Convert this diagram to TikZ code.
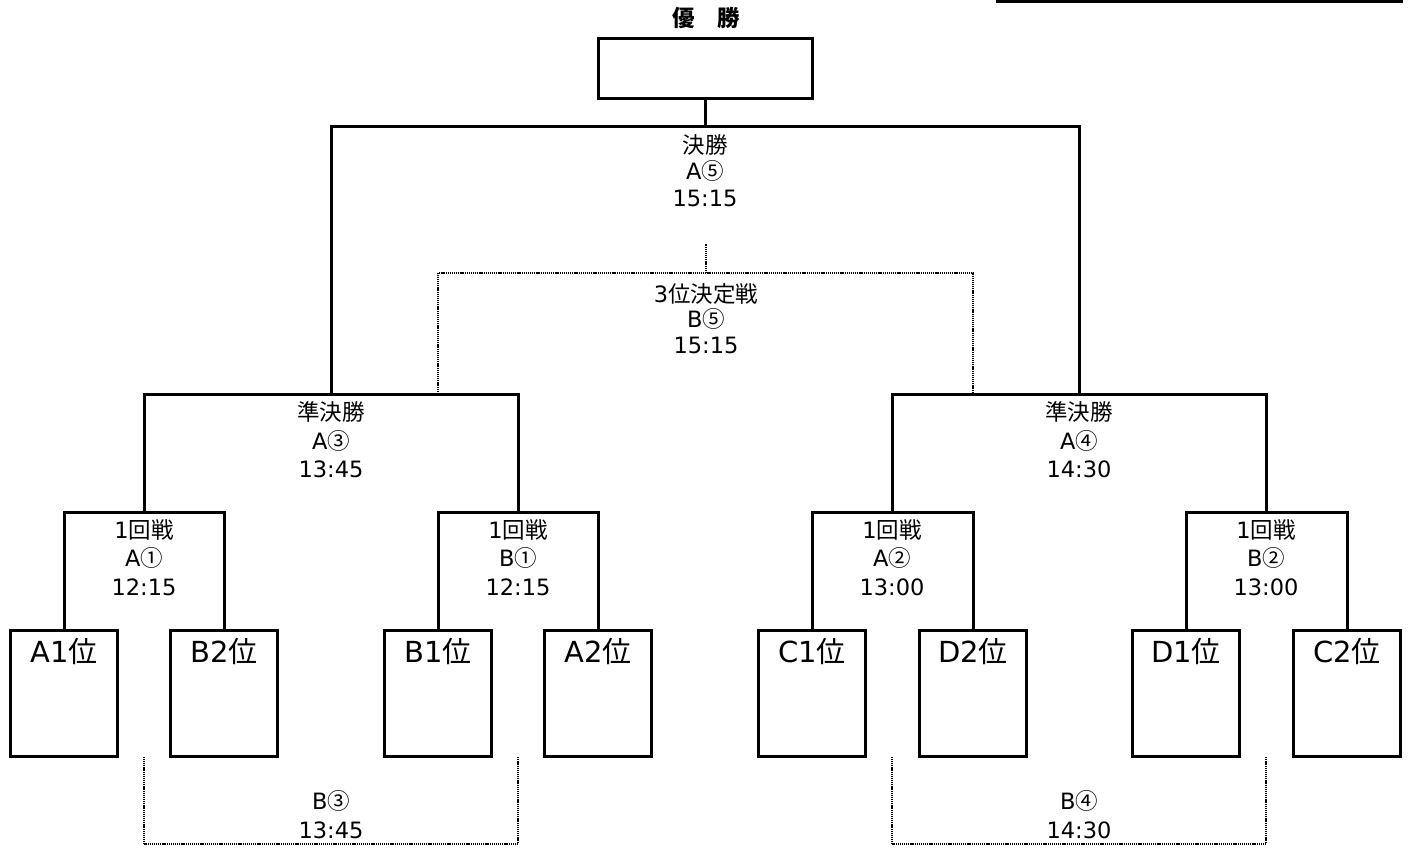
\documentclass[tikz,border=0pt]{standalone}
\usepackage{fontspec}
\setmainfont{DejaVu Sans}
\newfontfamily\jpfont{Noto Sans CJK JP}
\usetikzlibrary{positioning}

\begin{document}
\begin{tikzpicture}[x=1pt,y=-1pt,line width=3pt,
    team/.style={draw,rectangle,anchor=north,inner xsep=0pt,inner ysep=0pt,
      minimum width=107pt,text height=32pt,text depth=94pt,
      font=\fontsize{29}{32}\selectfont},
    match/.style={align=center,inner sep=0pt,font=\fontsize{22.5}{28.5}\selectfont},
    dotline/.style={line width=2.5pt,dash pattern=on 1.1pt off 0.8pt}]
  \useasboundingbox (0,0) rectangle (1409,849);
  %% top rule
  \coordinate (rulea) at (996,1);
  \coordinate (ruleb) at (1403,1);
  \draw (rulea) -- (ruleb);
  %% champion
  \node[font={\fontsize{22.5}{24}\selectfont\jpfont\bfseries}] (title) at (706,18) {優　勝};
  \node[draw,anchor=north,inner sep=0pt,minimum width=214pt,minimum height=60pt] (champ) at (705,37) {};
  %% teams
  \node[team] (a1) at (64,629) {A1{\jpfont 位}};
  \node[team] (b2) at (224,629) {B2{\jpfont 位}};
  \node[team] (b1) at (438,629) {B1{\jpfont 位}};
  \node[team] (a2) at (598,629) {A2{\jpfont 位}};
  \node[team] (c1) at (812,629) {C1{\jpfont 位}};
  \node[team] (d2) at (973,629) {D2{\jpfont 位}};
  \node[team] (d1) at (1186,629) {D1{\jpfont 位}};
  \node[team] (c2) at (1347,629) {C2{\jpfont 位}};
  %% first round
  \coordinate (r1) at (144,512);
  \coordinate (r2) at (518,512);
  \coordinate (r3) at (892,512);
  \coordinate (r4) at (1266,512);
  \draw (a1.north) |- (r1) -| (b2.north);
  \draw (b1.north) |- (r2) -| (a2.north);
  \draw (c1.north) |- (r3) -| (d2.north);
  \draw (d1.north) |- (r4) -| (c2.north);
  \node[match,below=6pt of r1] (r1t) {1{\jpfont 回戦}\\A{\jpfont ①}\\12:15};
  \node[match,below=6pt of r2] (r2t) {1{\jpfont 回戦}\\B{\jpfont ①}\\12:15};
  \node[match,below=6pt of r3] (r3t) {1{\jpfont 回戦}\\A{\jpfont ②}\\13:00};
  \node[match,below=6pt of r4] (r4t) {1{\jpfont 回戦}\\B{\jpfont ②}\\13:00};
  %% semi finals
  \coordinate (sfa) at (331,394);
  \coordinate (sfb) at (1079,394);
  \draw (r1) |- (sfa) -| (r2);
  \draw (r3) |- (sfb) -| (r4);
  \node[match,below=6pt of sfa] (sfat) {{\jpfont 準決勝}\\A{\jpfont ③}\\13:45};
  \node[match,below=6pt of sfb] (sfbt) {{\jpfont 準決勝}\\A{\jpfont ④}\\14:30};
  %% final
  \coordinate (fin) at (705,126);
  \draw (sfa) |- (fin) -| (sfb);
  \draw (fin) -- (champ.south);
  \node[match,below=7pt of fin,font=\fontsize{22.5}{26.5}\selectfont] (fint) {{\jpfont 決勝}\\A{\jpfont ⑤}\\15:15};
  %% third place
  \coordinate (tpa) at (438,394);
  \coordinate (tpb) at (973,394);
  \coordinate (third) at (706,273);
  \coordinate (thirdtop) at (706,244);
  \draw[dotline] (tpa) |- (third) -| (tpb);
  \draw[dotline] (third) -- (thirdtop);
  \node[match,below=9pt of third,font=\fontsize{22.5}{25.5}\selectfont] (thirdt) {3{\jpfont 位決定戦}\\B{\jpfont ⑤}\\15:15};
  %% losers
  \coordinate (lsa) at (144,757);
  \coordinate (lsb) at (518,757);
  \coordinate (lsm) at (331,844);
  \coordinate (rsa) at (892,757);
  \coordinate (rsb) at (1266,757);
  \coordinate (rsm) at (1079,844);
  \draw[dotline] (lsa) |- (lsm) -| (lsb);
  \draw[dotline] (rsa) |- (rsm) -| (rsb);
  \node[match,above=4pt of lsm] (lsmt) {B{\jpfont ③}\\13:45};
  \node[match,above=4pt of rsm] (rsmt) {B{\jpfont ④}\\14:30};
\end{tikzpicture}
\end{document}
